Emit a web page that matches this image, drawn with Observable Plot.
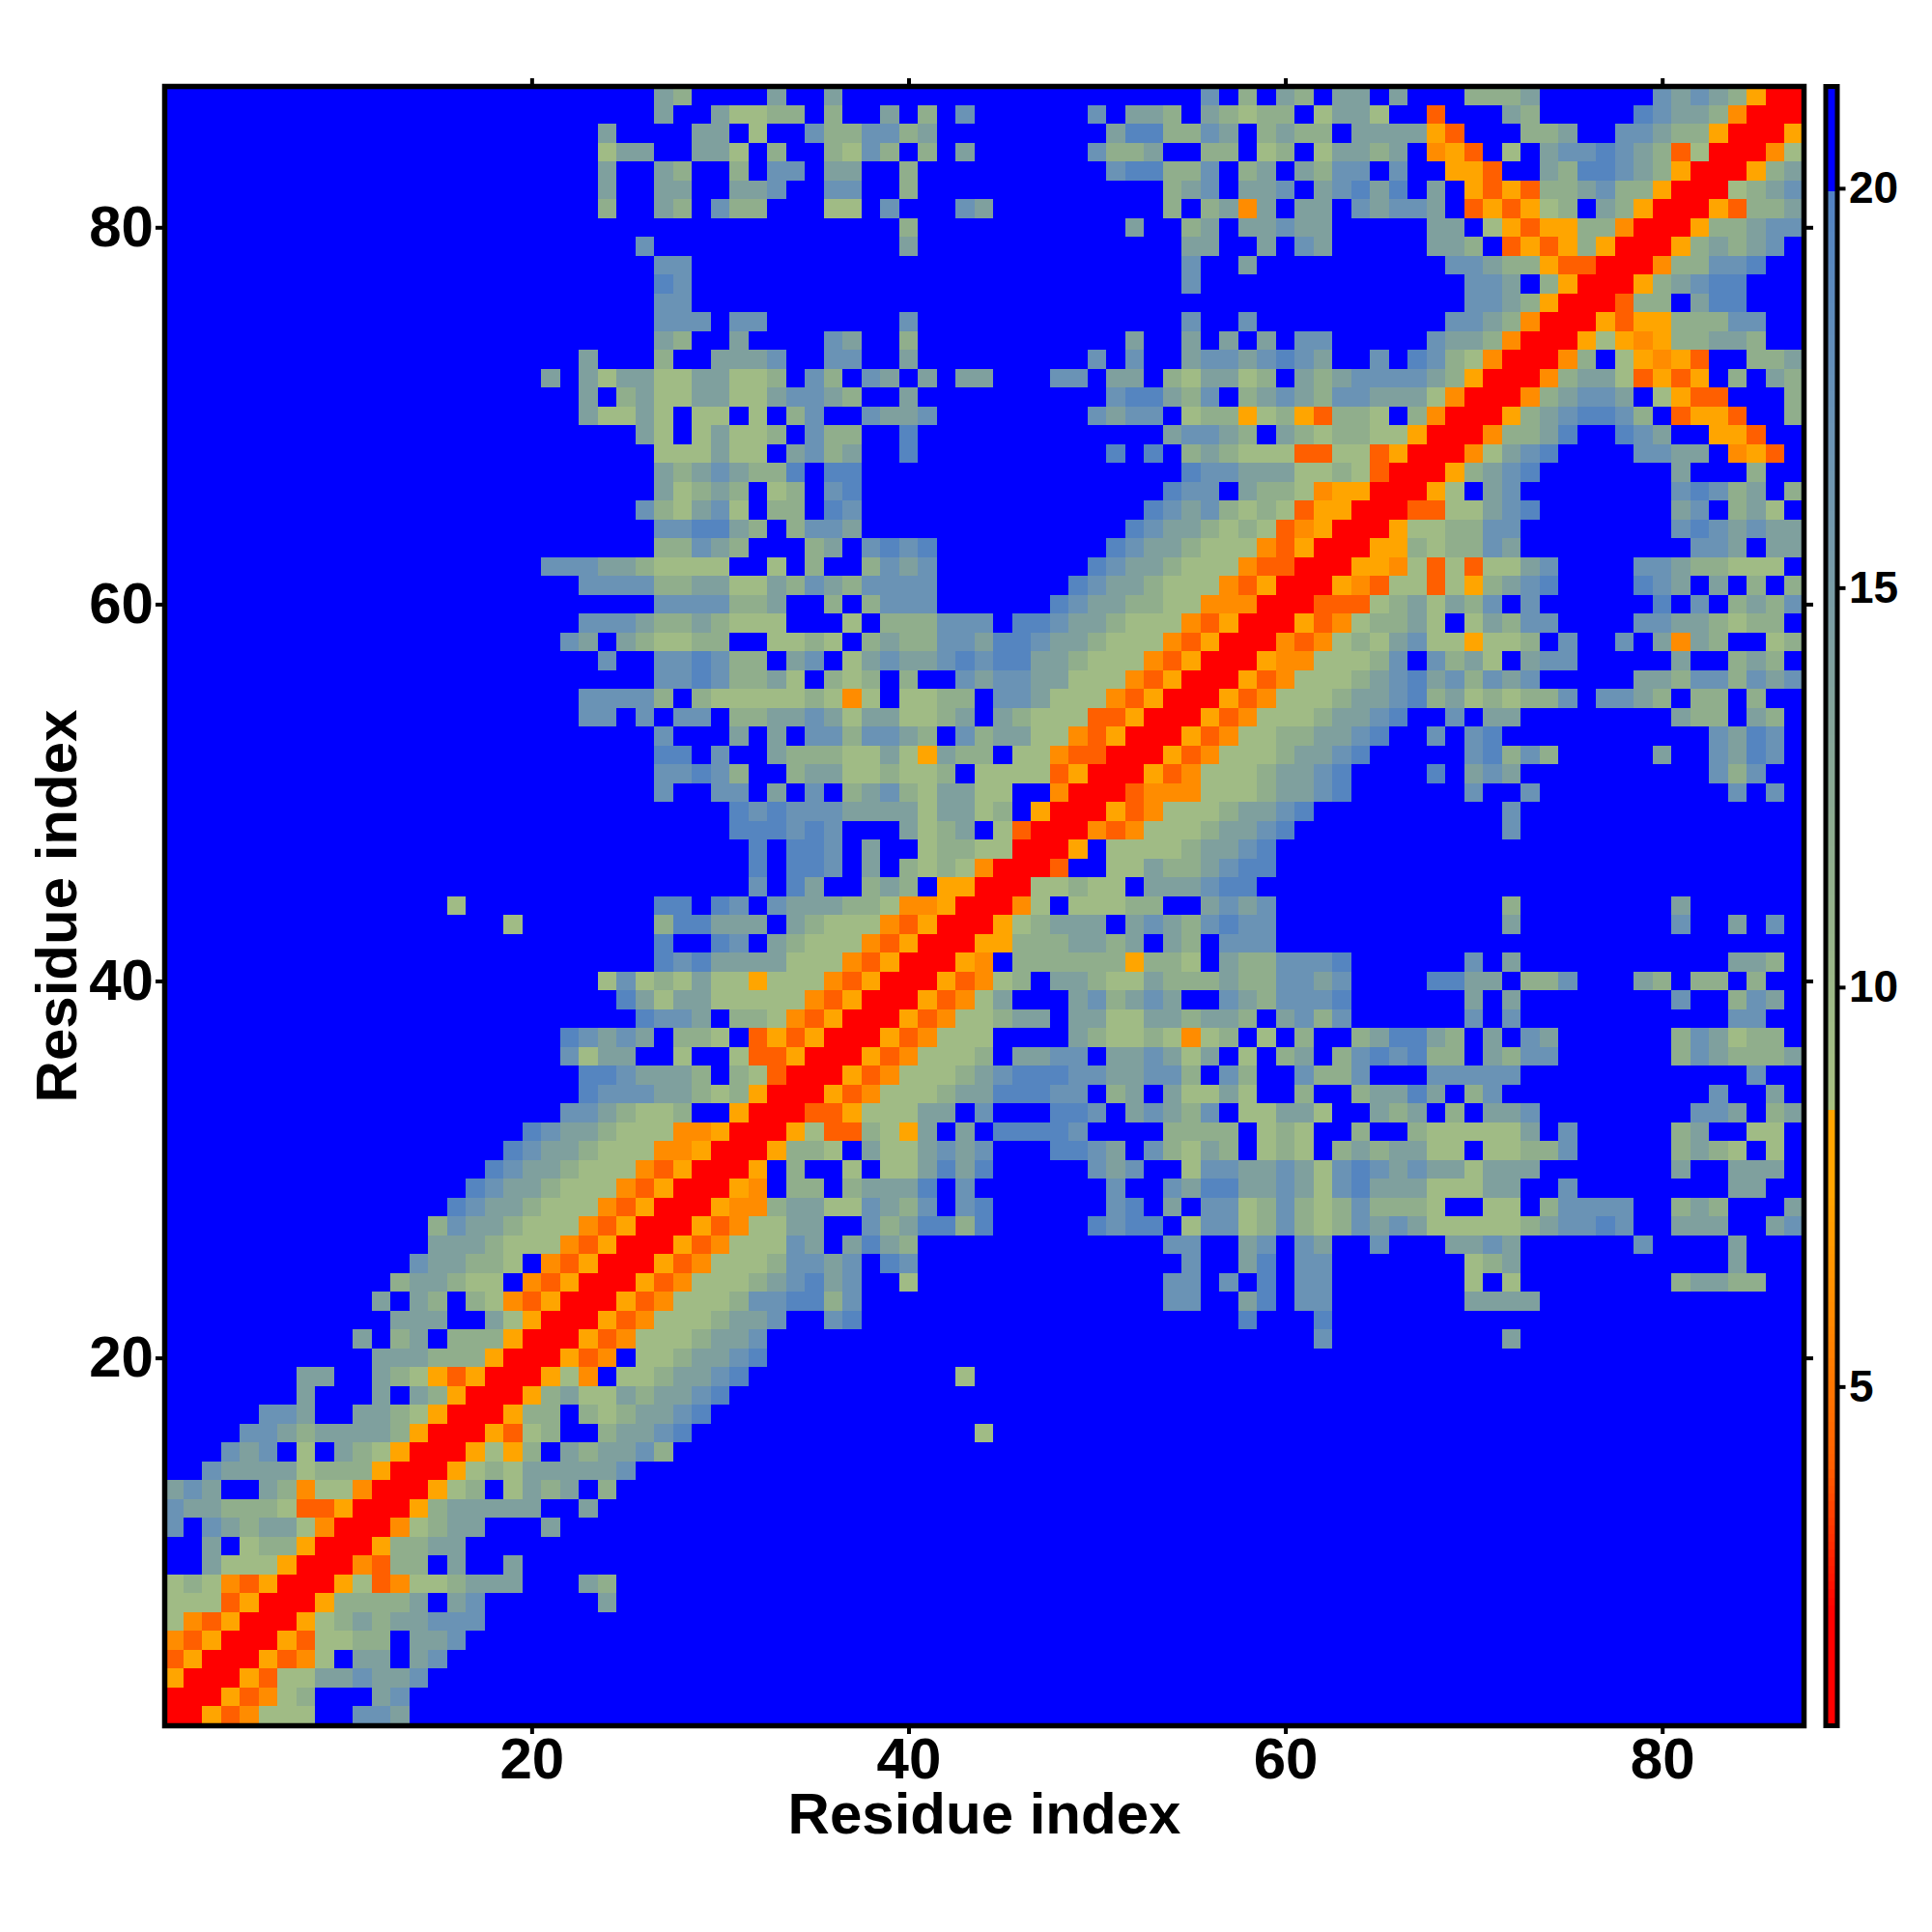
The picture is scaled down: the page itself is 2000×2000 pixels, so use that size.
<!DOCTYPE html>
<html>
<head>
<meta charset="utf-8">
<script src="https://cdn.jsdelivr.net/npm/d3@7"></script>
<script src="https://cdn.jsdelivr.net/npm/@observablehq/plot@0.6"></script>
<style>
html,body{margin:0;padding:0;background:#fff;overflow:hidden}
#wrap{position:relative;width:2000px;height:2000px}
#wrap>svg{position:absolute;top:0;background:transparent}
</style>
</head>
<body>
<div id="wrap"></div>
<script>
const residueCount = 87;
const axisTicks = [20, 40, 60, 80];
const colorbarTicks = [5, 10, 15, 20];
const axisLabel = "Residue index";

// letter code of each level and the value it stands for
const levelKeys   = ["R", "e", "d", "o", "g", "h", "i", "j", "k", "."];
const levelValues = [1.5, 4, 6, 7.5, 9.5, 11.5, 14, 17, 19.5, 21];

const colorDomain = [0.76, 2.2, 4, 6, 7.5, 8.45, 8.46, 9.5, 11.5, 14, 17, 19.5, 19.99, 20, 21.3];
const colorRange  = ["#FF0000", "#FF0000", "#FF5F00", "#FF8C00", "#FFA500", "#FFA500", "#A8BF80", "#A0BB85", "#90AE8C", "#7FA09E", "#6A93B5", "#5585C0", "#5282C4", "#0000FF", "#0000FF"];

// one entry per residue row, from row 1 up to row 87: "startColumn:levels" runs, all else is level "."
const rowRuns = [
"1:RRoedggg..jji",
"1:RRRoedgh...ij",
"1:oRRRoeggiijiij",
"1:eoRRRoedg.ii.ij",
"1:deoRRRoegghh.iij",
"1:gdeoRRRoghihiijjj",
"1:gggeoRRRohhhhi.ij 24:i",
"1:ghgdeoRRRogedgghiii 23:ih",
"3:igggoRRRdehh.i..i",
"3:i.ghhoRRRohhii",
"1:j.jihiigdRRRdghii...i",
"1:jiihhhgeeoRRRohiiiii 23:i",
"1:iji..ihdggdRRRogh.gihi 24:h",
"3:jiiiighhhoRRRoghgiiiiij",
"4:jij.g.ihgoRRRogoh.ihiijh",
"5:jjihiiiihoRRRoegh..hiijk 44:g",
"6:jji..iihgoRRRohh.hghiijk",
"8:i...i.ihoRRRohiggihiijk",
"8:ii..ihgoeoRRRogd.gghiijk 43:g",
"12:iiihhhoRRRoed.gghiijk",
"11:i.hi.hhhoRRRoedggghiij 62:j 72:i",
"13:iii..igoRRRoedggghiij..jk 58:k 62:k",
"12:i.ih.hgdeoRRRoedggghjjkkhj 54:jj 58:ik 61:jj 70:iiii",
"13:hiihgg.deoRRRoedggghijkij..g 54:jj 57:j 59:k 61:jj 70:g.g 81:hiihh",
"14:jiihhg.deoRRRoedggghjjij.kj 55:j 58:ik 61:jj 70:ghi 84:i",
"15:iiihgggdeoRRRoedgggji.ikih 54:jj 58:ij 61:ji 65:j 69:iiji 79:j 84:i",
"15:hjiihgggdeoRRRoedggii..jhikkhk 50:kjkk.gjjghjhghjijiggggghijjkj 81:iii 86:ij",
"16:kjiihgggdeoRRRoddhiiggjihj.jk 51:jk.i.jjghjhghjhhhg..gg.hjjjj 81:hih 87:i",
"17:kjiihgggdeoRRRod.hh.hiiik.j 51:j..jikkiijigjkiiigggii..j 84:ii",
"18:kjiihgggdeoRRRo.h..g.ggikik 50:jij..gjjiijigjkjijiigiii 81:i 84:iii",
"19:kjiihgggddoRRRohhg.iggijij...kkji.jhgih.ghg.hihiigg.gghhj 81:hihg.g",
"20:kjiihgggddoRRRogeehgoi.i.kkkkj....hhhh.ghg 64:h 67:hgggggi 75:j 81:hi 85:gg",
"22:jjihggh..oRRReeogggii.j...kkj.ijihj.ggiig 65:ihi 69:h 71:iij 82:jji 86:hi",
"23:kjjjiihghoRRRoedggghiikkkjj.hi.iggig..h 64:hiiki.hj 83:j 86:i",
"23:kkjiiih.hgeRRRoedggghijkkkjjiijjh.jh..jhhj 68:jjjjj 85:j",
"22:jgii..g..geeoRRRoedgggh.iijj.iijigi.g.hi.hjkjkhh.ihjj 81:hjihhhi",
"22:kjiji.hhg.eoeoRRRoedggg....ihgghgdgh.g.h..hikkih.i.ji 81:hjighh",
"26:kjji.hhgdeoRRRoedgghii.iiggiihiih.ijhj 70:j 72:j 84:jj",
"25:kigiigggggdeoRRRoedgi...ijhiji..jihjjjk 70:i 72:i 81:j 84:hji",
"24:gjghgiggogggdeoRRRoedgh.iihggihhhihhjjij 68:kkii.hhj 79:ih 82:hh 85:h",
"27:kjkiiiigggdeoRRRod.hhhhhhohhg.ihhjjjk 70:j 72:i 84:iih",
"27:k..kj.ihgggdeoRRRoohhhiihi.ih.jjj",
"19:g 27:hkkiii.ihgggdeoRRRoghiii.ijihjkjj 72:i 81:j 84:i 86:j",
"16:g 27:kk.kj.jiiihhgddoRRRdg.ggghh..ijij 72:h 81:i",
"32:j.ki..hih.ooRRRgghgg.iiijkk",
"32:k.kkj.i.hghgdRRRe..ggihhijkk",
"32:k.kkj.i..ghhggRRRo.gggghiijk",
"31:kkkjkj...ighi.geRRRdedggghiijk 72:j",
"31:kjkjjjiiiigiigh.oRRRoedggghiijk 72:j",
"27:j..jj.i.j.hijhgiigg..dRRRedddggghiijk 70:j 73:j 84:j 86:j",
"27:jjkjh..hiigghggh.ggggeoRRRoedggghiijk 68:k 70:iji 83:jhj",
"27:kk.j..ihhhggigoihh.ggdeeRRRoedggghiijk 70:jkhjh 80:i 83:jikj",
"27:j 31:i.i.jjhjjih.jhiiggdeoRRRoedgghhiijk..j.jk 83:jikj",
"23:jj.j.jj.hhiijigiigghi.ihgggeeoRRRoedggghiijk..j.ii 81:ihh.ih",
"23:jjjjh.hggggghgdg.gghh.jjigggdeoRRRoedggghiijkhighghhj.jjih.hh.h",
"27:jjkjhhig.hgh.h..jijjiigggdeoRRRoedggghijkijhjij 79:iihjjhjij",
"24:j 27:jjkjhh.ij.gijiijkjkkiihgggdeoRRRoddggghj.jhig.ijj 81:i 84:hih",
"22:ji.ihgghh..gghg.hihhjjikkjiihgggdeoRRRdedghgijggoggh.j..j.idih..gh",
"23:jjjihhihggg...g.hhhjjj.kkjiihgggdeoRRRoedghhig.gihjj 79:jjiihghh",
"27:jjjjhhi..h.hjjj......kjiihhggdddRRReeeghigihj.j 80:k.j.hihj",
"23:jjjjhhiiggihjihjjjj.......kjiihgggdeoRRRodeggegohijk 79:kji.i.h.h",
"21:jjjiihgggg..g.h..hjij........kjiihgggdeeRRRoodgegeggij 79:jjihhggg",
"27:hhjih...hi.jkjk.........kjiihgggdeoRRRoohghhji 82:jji.ii",
"27:jjkkih.hjji 52:kjiihghgedoRRRogghhjj 81:jkjijii",
"26:jhgijg.hh.kj 53:kjijhghgeooRRReeggijk 81:ij.hig",
"27:ighih.gh.jk 54:kjj.ihhgdooRRRog.ij 81:jkjhi.h",
"27:ihijihhk.kk 55:kjjiiigghgeRRRohijk 81:i 85:h",
"27:gggigg.ijhi 40:k 51:k 53:k 55:hihgggeeggeoRRRdgijk 79:jjii.doe",
"26:ig.giggh.jhh 40:k 54:ijjih.ihghhggoRRRdhhik..kji..ooe",
"23:iggig.gg.g.hj..jiij 50:jijj.ghhoghoehhg.hdRRRohijkkjh.eooe..h",
"23:i.higgiiggijjih 40:i 51:jkkihj.hijihjjiiigdRRRdhijji.goee...h",
"21:i.igiiggiiggh.jh.ji.i.ii 48:jj 51:ii 54:hgiigh.ihijjjjihoRRRdhiigeoeo.h.ih",
"23:i 27:h 30:iiij 36:jj 40:i 50:j 52:j 55:ijjijkji..j.kjhgdRRRdh.godoe..hhi",
"27:ih 31:i 36:ji 40:h 52:i 55:i 57:i.i.jj 68:jiihdRRRogodohhiih",
"27:jjj 31:jj 40:j 55:j 58:j 69:jjihdRRRoeoohhhjj",
"27:jj 70:jjihoRRRehh.ikk",
"27:kj 55:j 70:jji.hoRRRohijkk",
"27:jj 55:j 58:i 69:jjihhoeeRRRdhhjjk",
"26:j 40:i 55:ii..i.ji 68:iih.eoeohoRRRohihij",
"40:h 52:i 55:hi.iijii 68:ii.goeoohhdRRRohhijj",
"24:h 27:ih.jhh 36:gg.j 43:ji 54:h 56:hidi.ii.jijji.eoeogh.ihoRRRoehhi",
"24:i 27:ii 31:iij 36:jj 40:h 54:hi 56:j.iij.ijkik.i.oeoehhijhhoRRRghij",
"24:i 27:ih 31:h.jj 36:ii 40:h 51:jkkhhj.hi.ihjj.j..ooe..ihkkjihoRRRohi",
"24:gii 29:iig.h 36:hgjh.h 43:i 50:jhhi 56:hh.gh.giihi.doe.g.ijjkjihegRRRdg",
"24:i 29:ii.g 35:jhhjjhi 51:ikkhhji.hihh.iiiioe...hhi..jjihhoRRRo",
"27:i 30:igghh 36:h 39:i 41:h 43:j 50:j 52:iih 56:ihghh.giig..e...ih.....kjiihdRRR",
"27:ih 33:i 36:i 56:j.h.ih.ii.i...hhhi......jijihoRR"
];

const valueOf = Object.fromEntries(levelKeys.map((k, i) => [k, levelValues[i]]));
const residues = d3.range(1, residueCount + 1);
const cells = [];
rowRuns.forEach((runs, i) => {
  const levels = new Array(residueCount).fill(".");
  runs.split(" ").forEach(run => {
    const [start, text] = run.split(":");
    [...text].forEach((ch, j) => {
      const c = +start - 1 + j;
      if (c >= 0 && c < residueCount) levels[c] = ch;
    });
  });
  levels.forEach((ch, c) => cells.push({col: c + 1, row: i + 1, value: valueOf[ch]}));
});

const font = "'Liberation Sans', Arial, sans-serif";

const main = Plot.plot({
  width: 2000, height: 2000,
  marginLeft: 170, marginRight: 133, marginTop: 89, marginBottom: 214,
  style: {fontFamily: font, background: "transparent"},
  x: {type: "band", domain: residues, padding: 0, round: false},
  y: {type: "band", domain: [...residues].reverse(), padding: 0, round: false},
  color: {type: "linear", domain: colorDomain, range: colorRange, clamp: true, interpolate: "rgb"},
  marks: [
    Plot.cell(cells, {x: "col", y: "row", fill: "value", inset: 0, shapeRendering: "crispEdges"}),
    Plot.axisX({anchor: "bottom", ticks: axisTicks, tickSize: 9, tickPadding: 3, strokeWidth: 4, label: null, fontSize: 60, fontWeight: "bold", fill: "black", stroke: "black"}),
    Plot.axisX({anchor: "top", ticks: axisTicks, tickSize: 9, strokeWidth: 4, label: null, tickFormat: () => "", stroke: "black"}),
    Plot.axisY({anchor: "left", ticks: axisTicks, tickSize: 9, tickPadding: 2.5, strokeWidth: 4, label: null, fontSize: 60, fontWeight: "bold", fill: "black", stroke: "black"}),
    Plot.axisY({anchor: "right", ticks: axisTicks, tickSize: 9, strokeWidth: 4, label: null, tickFormat: () => "", stroke: "black"}),
    Plot.frame({stroke: "black", strokeWidth: 5.5}),
    Plot.text([axisLabel], {frameAnchor: "bottom", dy: 111, text: d => d, fontSize: 60, fontWeight: "bold", fill: "black"}),
    Plot.text([axisLabel], {frameAnchor: "left", dx: -111, rotate: -90, textAnchor: "middle", text: d => d, fontSize: 60, fontWeight: "bold", fill: "black"})
  ]
});
main.style.left = "0px";

// colorbar, drawn from the same colour stops
const barEdges = d3.range(0.76, 21.28, 0.1);
const bar = Plot.plot({
  width: 120, height: 2000,
  marginLeft: 9.5, marginRight: 98.5, marginTop: 89, marginBottom: 214,
  style: {fontFamily: font, background: "transparent", overflow: "visible"},
  x: {domain: [0, 1], axis: null},
  y: {domain: [0.76, 21.28]},
  color: {type: "linear", domain: colorDomain, range: colorRange, clamp: true, interpolate: "rgb"},
  marks: [
    Plot.rect(barEdges, {x1: 0, x2: 1, y1: d => d, y2: d => Math.min(d + 0.11, 21.28), fill: d => d + 0.05, shapeRendering: "crispEdges"}),
    Plot.axisY({anchor: "right", ticks: colorbarTicks, tickSize: 8, tickPadding: 4, strokeWidth: 4, label: null, fontSize: 46, fontWeight: "bold", fill: "black", stroke: "black"}),
    Plot.frame({stroke: "black", strokeWidth: 5})
  ]
});
bar.style.left = "1880px";

document.getElementById("wrap").append(main, bar);
</script>
</body>
</html>
